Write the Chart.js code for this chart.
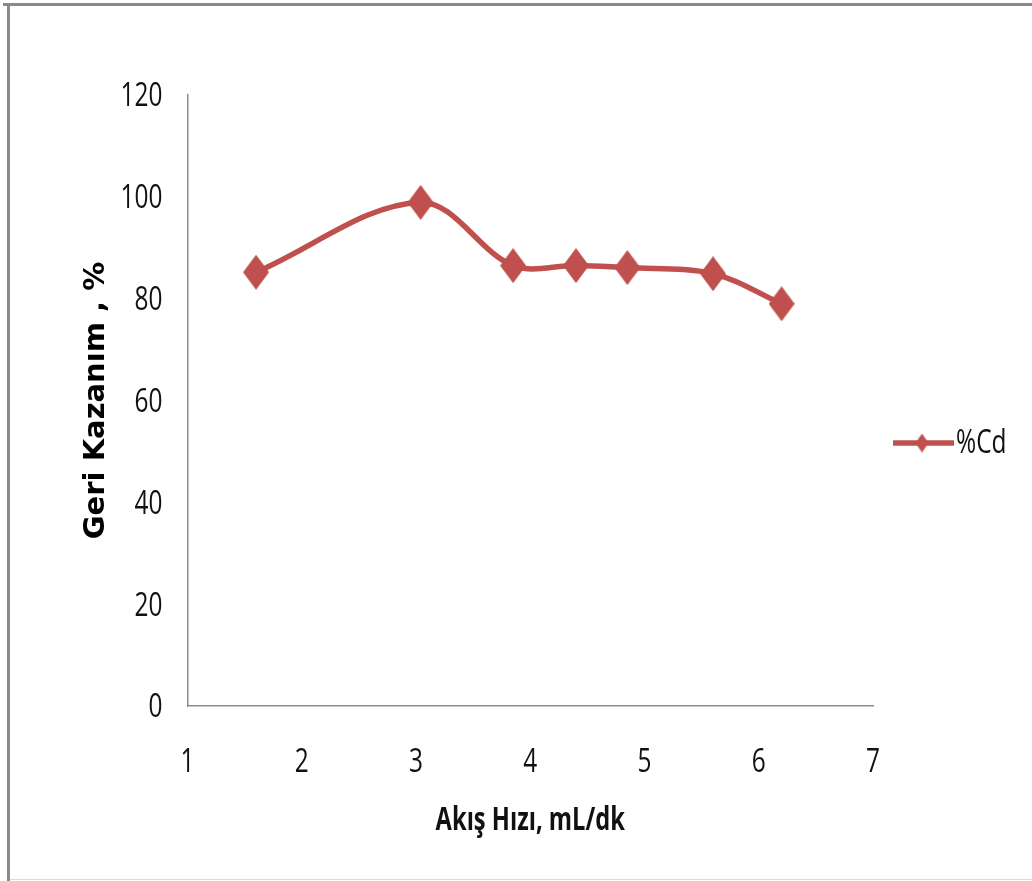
<!DOCTYPE html>
<html>
<head>
<meta charset="utf-8">
<script src="https://cdn.jsdelivr.net/npm/chart.js@4/dist/chart.umd.min.js"></script>
<style>
  html, body { margin: 0; padding: 0; background: #fff; }
  #wrap { position: relative; width: 1032px; height: 881px; }
</style>
</head>
<body>
<div id="wrap"><canvas id="myChart" width="1032" height="881"></canvas></div>
<script>
// flow rate (mL/dk) vs recovery (%)
const flowRate = [1.6, 3.04, 3.85, 4.4, 4.85, 5.6, 6.2];
const recoveryCd = [85.2, 98.9, 86.5, 86.5, 86.1, 84.9, 79.0];
const seriesName = '%Cd';
const xTitle = 'Akış Hızı, mL/dk';
const yTitle = 'Geri Kazanım , %';

const red = '#C0504D';
const axisGray = '#8c8c8c';
const textFont = '"Open Sans", "Liberation Sans", sans-serif';
const squeeze = 0.74;   // narrow look for horizontal text

// tall diamond marker
function diamond(w, h) {
  const c = document.createElement('canvas');
  c.width = w; c.height = h;
  const g = c.getContext('2d');
  g.fillStyle = red;
  g.beginPath();
  g.moveTo(w / 2, 0);
  g.lineTo(w, h / 2);
  g.lineTo(w / 2, h);
  g.lineTo(0, h / 2);
  g.closePath();
  g.fill();
  return c;
}
const marker = diamond(26, 35);
const legendMarker = diamond(13, 19);

function narrowText(ctx, str, x, y, align, font) {
  ctx.save();
  ctx.translate(x, y);
  ctx.scale(squeeze, 1);
  ctx.font = font;
  ctx.textAlign = align;
  ctx.textBaseline = 'middle';
  ctx.fillText(str, 0, 0);
  ctx.restore();
}

const framePlugin = {
  id: 'frame',
  beforeDraw(chart) {
    const { ctx, width, height } = chart;
    ctx.save();
    ctx.fillStyle = '#8a8a8a';
    ctx.fillRect(3, 3, width - 3, 3);
    ctx.fillRect(7, 3, 3, height - 3);
    ctx.fillStyle = '#dcdcdc';
    ctx.fillRect(10, height - 2, width - 10, 1);
    ctx.restore();
  }
};

// tick labels, axis titles and legend, drawn from the chart's own scales
const labelsPlugin = {
  id: 'narrowLabels',
  afterDraw(chart) {
    const { ctx, scales: { x, y }, chartArea } = chart;
    ctx.save();
    ctx.fillStyle = '#111';
    const tickFont = '33px ' + textFont;
    x.ticks.forEach(t => {
      narrowText(ctx, String(t.value), x.getPixelForValue(t.value), chartArea.bottom + 57, 'center', tickFont);
    });
    y.ticks.forEach(t => {
      narrowText(ctx, String(t.value), chartArea.left - 25, y.getPixelForValue(t.value) + 2, 'right', tickFont);
    });
    narrowText(ctx, xTitle, (chartArea.left + chartArea.right) / 2, 821, 'center', 'bold 32px ' + textFont);

    // y title, upright font, rotated
    ctx.save();
    ctx.translate(96, (chartArea.top + chartArea.bottom) / 2);
    ctx.rotate(-Math.PI / 2);
    ctx.font = 'bold 29px "DejaVu Sans", sans-serif';
    ctx.fillStyle = '#000';
    ctx.textAlign = 'center';
    ctx.textBaseline = 'middle';
    ctx.fillText(yTitle, 0, 0);
    ctx.restore();

    // legend
    const ly = 443;
    ctx.strokeStyle = red;
    ctx.lineWidth = 5.5;
    ctx.beginPath();
    ctx.moveTo(893, ly);
    ctx.lineTo(954, ly);
    ctx.stroke();
    ctx.drawImage(legendMarker, 922 - legendMarker.width / 2, ly - legendMarker.height / 2);
    narrowText(ctx, seriesName, 956, ly + 1, 'left', '33px ' + textFont);
    ctx.restore();
  }
};

new Chart(document.getElementById('myChart'), {
  type: 'line',
  data: {
    datasets: [{
      label: seriesName,
      data: flowRate.map((x, i) => ({ x: x, y: recoveryCd[i] })),
      borderColor: red,
      backgroundColor: red,
      borderWidth: 5.5,
      tension: 0.35,
      pointStyle: marker,
      pointRadius: 12,
      pointHoverRadius: 12
    }]
  },
  options: {
    responsive: false,
    devicePixelRatio: 1,
    animation: false,
    layout: { padding: { left: 0, top: 95, right: 159, bottom: 0 } },
    plugins: {
      legend: { display: false },
      tooltip: { enabled: false }
    },
    scales: {
      x: {
        type: 'linear',
        min: 1,
        max: 7,
        grid: { display: false, drawTicks: false },
        border: { display: true, color: axisGray, width: 1.5 },
        ticks: { stepSize: 1, display: false },
        title: { display: false, text: xTitle },
        afterFit(scale) { scale.height = 175; }
      },
      y: {
        min: 0,
        max: 120,
        grid: { display: false, drawTicks: false },
        border: { display: true, color: axisGray, width: 1.5 },
        ticks: { stepSize: 20, display: false },
        title: { display: false, text: yTitle },
        afterFit(scale) { scale.width = 187.5; }
      }
    }
  },
  plugins: [framePlugin, labelsPlugin]
});
</script>
</body>
</html>
